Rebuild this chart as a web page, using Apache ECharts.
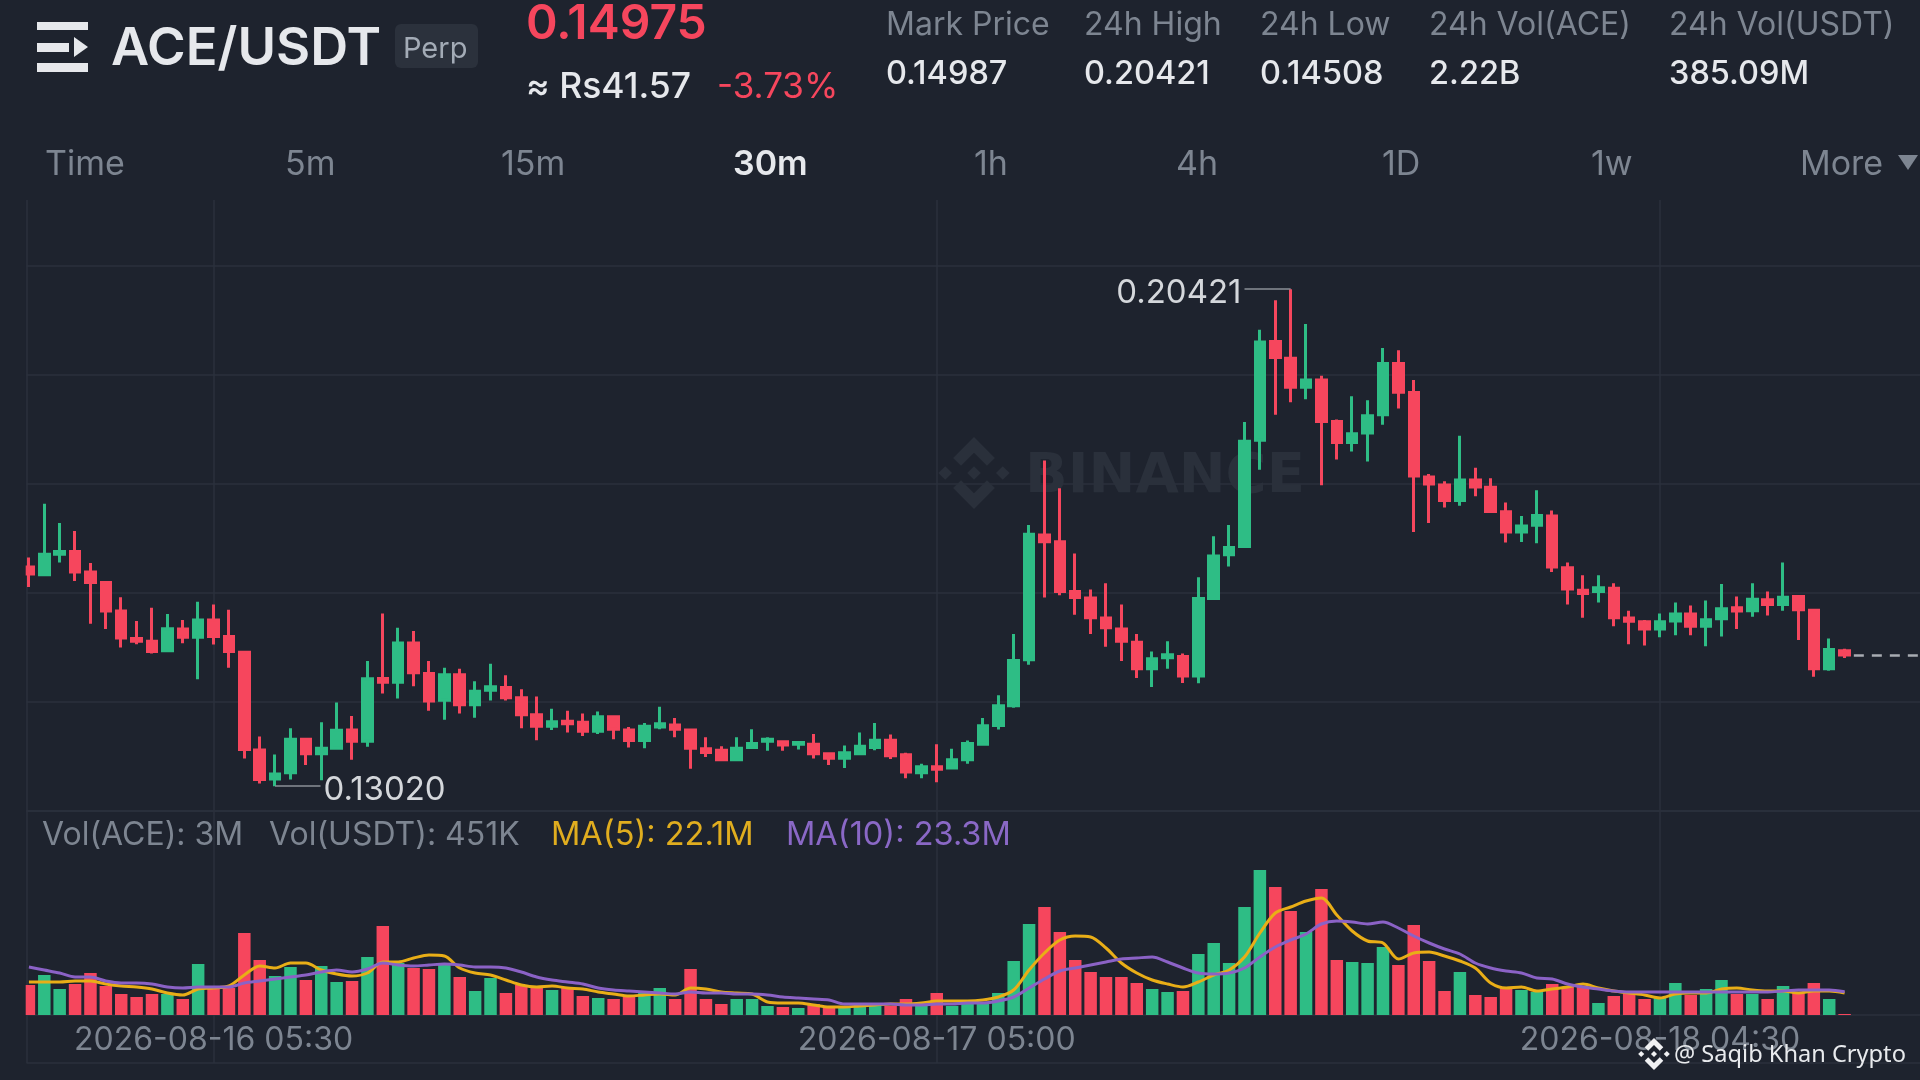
<!DOCTYPE html>
<html><head><meta charset="utf-8">
<style>html,body{margin:0;padding:0;background:#1e232e}#c{width:1920px;height:1080px}</style>
<script src="https://cdn.jsdelivr.net/npm/echarts@6/dist/echarts.min.js"></script>
</head><body><div id="c"></div>
<script>
const opens=[.16284,.16169,.16473,.16515,.16211,.16053,.15627,.15220,.15177,.15037,
.15360,.15238,.15494,.15250,.15013,.13559,.13127,.13218,.13717,.13504,
.13583,.13857,.13687,.14624,.14569,.15153,.14697,.14301,.14678,.14234,
.14447,.14490,.14338,.14082,.13912,.13985,.13973,.13839,.14052,.13857,
.13699,.13900,.13930,.13857,.13577,.13553,.13413,.13596,.13687,.13681,
.13644,.13644,.13504,.13437,.13504,.13596,.13705,.13486,.13218,.13310,
.13291,.13413,.13644,.13924,.14216,.14903,.16759,.16661,.15919,.15822,
.15524,.15360,.15165,.14770,.14934,.14952,.14660,.15816,.16467,.16588,
.18170,.19642,.19393,.18961,.19070,.18450,.18140,.18280,.18553,.19314,
.18882,.17623,.17507,.17276,.17580,.17471,.17106,.16807,.16905,.17045,
.16272,.15938,.15919,.15968,.15524,.15469,.15360,.15481,.15585,.15402,
.15512,.15676,.15633,.15798,.15725,.15846,.15640,.14770,.15037];
const closes=[.16181,.16473,.16515,.16211,.16053,.15627,.15226,.15177,.15025,.15366,
.15238,.15494,.15250,.15025,.13565,.13121,.13200,.13717,.13504,.13583,
.13851,.13687,.14618,.14569,.15153,.14709,.14289,.14678,.14234,.14435,
.14502,.14338,.14082,.13912,.13979,.13948,.13839,.14052,.13869,.13699,
.13912,.13948,.13869,.13583,.13523,.13413,.13583,.13656,.13717,.13632,
.13669,.13504,.13437,.13517,.13614,.13705,.13474,.13231,.13310,.13273,
.13413,.13656,.13918,.14216,.14891,.16771,.16661,.15919,.15828,.15530,
.15378,.15177,.14770,.14916,.14976,.14660,.15816,.16449,.16576,.18158,
.19636,.19405,.18961,.19070,.18450,.18140,.18267,.18535,.19314,.18888,
.17641,.17519,.17276,.17580,.17477,.17112,.16807,.16893,.17051,.16284,
.15956,.15889,.15974,.15530,.15475,.15360,.15469,.15585,.15402,.15500,
.15664,.15627,.15804,.15725,.15834,.15646,.14770,.15056,.14975];
const lows=[.15986,.16169,.16351,.16077,.15439,.15360,.15086,.15135,.14995,.15025,
.15147,.14612,.15129,.14782,.13431,.13060,.13020,.13121,.13334,.13109,
.13565,.13413,.13608,.14399,.14326,.14508,.14143,.14009,.14101,.14040,
.14295,.14295,.13882,.13705,.13857,.13821,.13766,.13796,.13717,.13596,
.13583,.13869,.13748,.13279,.13456,.13395,.13401,.13583,.13547,.13547,
.13565,.13431,.13334,.13291,.13492,.13553,.13425,.13139,.13139,.13079,
.13273,.13352,.13638,.13863,.14186,.14830,.15828,.15865,.15573,.15287,
.15098,.14885,.14630,.14496,.14770,.14557,.14551,.15798,.16290,.16588,
.17732,.18553,.18736,.18784,.17501,.17884,.18006,.17854,.18401,.18645,
.16807,.16941,.17172,.17197,.17337,.17093,.16649,.16655,.16637,.16211,
.15725,.15530,.15755,.15402,.15135,.15116,.15238,.15269,.15269,.15104,
.15250,.15360,.15542,.15560,.15633,.15195,.14648,.14739,.14928];
const highs=[.16424,.17227,.16941,.16820,.16345,.16077,.15834,.15481,.15676,.15585,
.15494,.15767,.15725,.15646,.15013,.13760,.13492,.13882,.13717,.13973,
.14265,.14064,.14885,.15591,.15378,.15329,.14885,.14782,.14770,.14581,
.14843,.14672,.14465,.14356,.14174,.14143,.14101,.14131,.14070,.13900,
.13961,.14204,.14034,.13857,.13748,.13614,.13748,.13869,.13748,.13693,
.13675,.13796,.13517,.13626,.13821,.13961,.13790,.13517,.13352,.13644,
.13577,.13699,.14034,.14374,.15287,.16911,.17872,.17458,.16485,.15950,
.16041,.15725,.15287,.15025,.15177,.14995,.16132,.16741,.16911,.18444,
.19819,.20257,.20421,.19904,.19131,.18480,.18827,.18766,.19545,.19514,
.19070,.17671,.17562,.18237,.17762,.17604,.17245,.17045,.17428,.17124,
.16351,.16163,.16163,.16041,.15633,.15494,.15591,.15755,.15712,.15786,
.16029,.15846,.16041,.15919,.16351,.15865,.15640,.15220,.15068];
const volumes=[30,40,26,31,42,29,21,18,21,21,16,51,26,27,82,55,39,48,35,49,
33,34,58,89,52,47,46,51,38,24,37,22,30,28,25,27,19,17,16,18,
22,27,16,46,16,11,16,16,9,8,7,11,9,8,8,9,9,16,9,22,
9,11,12,22,54,91,108,83,55,43,38,38,32,26,23,24,61,72,52,108,
145,128,104,83,126,55,53,52,68,50,90,54,24,43,20,18,27,25,23,31,
28,28,12,19,22,16,18,32,20,26,35,21,21,16,29,23,32,16,1];
const ma5=[33,33,33,34,34,31,29,28,26,22,20,26,27,29,40,49,47,52,52,45,
41,39,42,53,53,57,60,59,47,42,40,35,30,28,29,27,26,23,21,19,
20,21,20,27,26,23,22,21,13,12,12,10,8,8,9,10,11,11,12,14,
14,14,15,18,25,45,62,75,79,78,67,52,42,35,31,28,33,40,45,58,
82,102,108,114,117,100,84,74,72,56,62,63,59,54,47,32,27,28,24,26,
28,31,27,24,22,20,17,21,22,22,26,27,25,24,24,22,24,24,22.1];
const ma10=[48,45,42,38,38,34,32,32,31,28,27,28,28,28,32,34,36,38,40,43,
45,43,46,52,50,49,50,51,50,48,48,47,43,38,35,33,31,27,25,24,
23,22,21,23,22,22,21,21,20,18,17,16,15,11,11,11,11,10,10,11,
11,12,12,14,18,27,36,44,47,50,53,56,57,58,53,47,42,41,42,47,
58,68,75,81,91,94,93,91,93,87,79,72,66,61,52,47,44,42,37,36,
31,28,26,24,23,23,23,23,23,23,23,23,23,23,24,25,25,25,23.3];
const tickValues=[12,59,106];
const tickLabels=['2026-08-16 05:30','2026-08-17 05:00','2026-08-18 04:30'];
const priceLines=[.1265,.14275,.159,.17525,.1915,.20775];
const periods=['Time','5m','15m','30m','1h','4h','1D','1w','More'];
const statLabels=['Mark Price','24h High','24h Low','24h Vol(ACE)','24h Vol(USDT)'];
const statValues=['0.14987','0.20421','0.14508','2.22B','385.09M'];
const lastPrice=.14975, maxPrice=.20421, minPrice=.13020;

const BG='#1e232e',LINE='#2b313c',UP='#2ebd85',DOWN='#f6465d',GREY='#7d8591',FG='#e6e8ec';
const FONT='Inter, "Noto Sans", sans-serif';
const xMin=-0.156,xMax=122.9;
const ohlc=opens.map((o,i)=>[i,o,closes[i],lows[i],highs[i]]);
const volData=volumes.map((v,i)=>({value:[i,v],itemStyle:{color:closes[i]>=opens[i]?UP:DOWN}}));
const idx=a=>a.map((v,i)=>[i,v]);

function txt(s,x,y,size,fill,weight,align){return{type:'text',z:20,style:{text:s,x,y,fill,font:(weight||400)+' '+size+'px '+FONT,textVerticalAlign:'middle',textAlign:align||'left'}};}
function poly(pts,fill,z){return{type:'polygon',z:z||20,shape:{points:pts},style:{fill}};}
function logo(cx,cy,r,fill,z){
  const P=a=>a.map(p=>[cx+p[0]*r,cy+p[1]*r]);
  const d=(x)=>P([[x,-.19],[x+.19,0],[x,.19],[x-.19,0]]);
  return [poly(d(0),fill,z),poly(d(-.8),fill,z),poly(d(.8),fill,z),
    poly(P([[0,-1],[.58,-.42],[.36,-.2],[0,-.56],[-.36,-.2],[-.58,-.42]]),fill,z),
    poly(P([[0,1],[.58,.42],[.36,.2],[0,.56],[-.36,.2],[-.58,.42]]),fill,z)];
}
const statX=[886,1084,1260,1429,1669];
const periodX=[45,285,501,733,974,1176,1382,1591,1800];
const graphics=[
  ...logo(974,473,36,'#2a303b',0),
  {type:'text',z:0,style:{text:'BINANCE',x:1025,y:477,fill:'#2a303b',font:'700 56px "DejaVu Sans", sans-serif',textVerticalAlign:'middle'}},
  {type:'rect',z:15,shape:{x:0,y:200,width:25.7,height:815},style:{fill:BG}},
  {type:'rect',z:20,shape:{x:37,y:22,width:51,height:8},style:{fill:FG}},
  {type:'rect',z:20,shape:{x:37,y:43,width:32,height:9},style:{fill:FG}},
  {type:'rect',z:20,shape:{x:37,y:63,width:51,height:9},style:{fill:FG}},
  poly([[74,37],[88,47],[74,57]],FG),
  txt('ACE/USDT',111,49,52.5,FG,600),
  {type:'rect',z:19,shape:{x:395,y:24,width:83,height:44,r:6},style:{fill:'#2b313c'}},
  txt('Perp',403,49,29,'#a3abb6',400),
  txt('0.14975',526,25,48,DOWN,600),
  txt('≈ Rs41.57',526,87,35.5,FG,500),
  txt('-3.73%',717,87,35,DOWN,400),
  ...statLabels.map((s,i)=>txt(s,statX[i],25,32,GREY,400)),
  ...statValues.map((s,i)=>txt(s,statX[i],74,32.5,FG,500)),
  ...periods.map((s,i)=>txt(s,periodX[i],165,34,i===3?FG:GREY,i===3?600:400)),
  poly([[1898,155],[1918,155],[1908,170]],GREY),
  txt('Vol(ACE): 3M',42,835,32,GREY),
  txt('Vol(USDT): 451K',269,835,32,GREY),
  txt('MA(5): 22.1M',551,835,32.5,'#e0ad1f'),
  txt('MA(10): 23.3M',786,835,32.5,'#8a68c6'),
  ...logo(1654,1054,16,'#f0f1f3',30),
  {type:'text',z:30,style:{text:'@ Saqib Khan Crypto',x:1674,y:1055,fill:'#e8eaed',font:'400 23.6px "Noto Sans", sans-serif',textVerticalAlign:'middle'}}
];
const tickSet={show:false,customValues:[xMin].concat(tickValues)};
const vline={show:true,lineStyle:{color:LINE,width:1.5}};
const hline={show:true,lineStyle:{color:LINE,width:1.5}};
const chart=echarts.init(document.getElementById('c'));
chart.setOption({
  animation:false,backgroundColor:BG,graphic:graphics,
  grid:[{left:26.5,right:0,top:200,height:611,outerBoundsMode:'none'},{left:26.5,right:0,top:811,height:252,outerBoundsMode:'none'}],
  xAxis:[
    {type:'value',gridIndex:0,min:xMin,max:xMax,axisLine:{show:false},axisTick:tickSet,axisLabel:{show:false},splitLine:vline},
    {type:'value',gridIndex:1,min:xMin,max:xMax,axisLine:{show:false,onZero:false},axisTick:tickSet,splitLine:vline,
     axisLabel:{show:true,inside:true,customValues:tickValues,margin:7,fontSize:32,color:GREY,fontFamily:FONT,
       formatter:v=>tickLabels[tickValues.indexOf(v)]||''}}
  ],
  yAxis:[
    {type:'value',gridIndex:0,min:.1265,max:.2175,axisLine:{show:false},axisLabel:{show:false},axisTick:{show:false,customValues:priceLines},splitLine:hline},
    {type:'value',gridIndex:1,min:-48,max:204,axisLine:{show:false},axisLabel:{show:false},axisTick:{show:false,customValues:[-48,0,204]},splitLine:hline}
  ],
  series:[
    {type:'candlestick',xAxisIndex:0,yAxisIndex:0,data:ohlc,barWidth:10,
     itemStyle:{color:UP,color0:DOWN,borderColor:UP,borderColor0:DOWN,borderWidth:3},
     markLine:{silent:true,symbol:'none',animation:false,precision:5,
       lineStyle:{type:'solid',color:'#8b9097',width:1.5},
       label:{show:true,position:'end',color:'#d4d7db',fontSize:33,fontFamily:FONT,distance:3,offset:[0,4]},
       data:[
        [{coord:[16,minPrice]},{coord:[18.95,minPrice],label:{formatter:minPrice.toFixed(5)}}],
        [{coord:[82,maxPrice]},{coord:[79,maxPrice],label:{formatter:maxPrice.toFixed(5)}}],
        [{coord:[118.6,lastPrice]},{coord:[xMax,lastPrice],label:{show:false},lineStyle:{type:[10,8],color:'#a8acb2',width:2.5}}]
       ]}},
    {type:'bar',xAxisIndex:1,yAxisIndex:1,data:volData,barWidth:12.5},
    {type:'line',xAxisIndex:1,yAxisIndex:1,data:idx(ma5),smooth:.3,showSymbol:false,lineStyle:{color:'#e9ae17',width:3},z:4},
    {type:'line',xAxisIndex:1,yAxisIndex:1,data:idx(ma10),smooth:.3,showSymbol:false,lineStyle:{color:'#8b62c6',width:3},z:5}
  ]
});
</script></body></html>
